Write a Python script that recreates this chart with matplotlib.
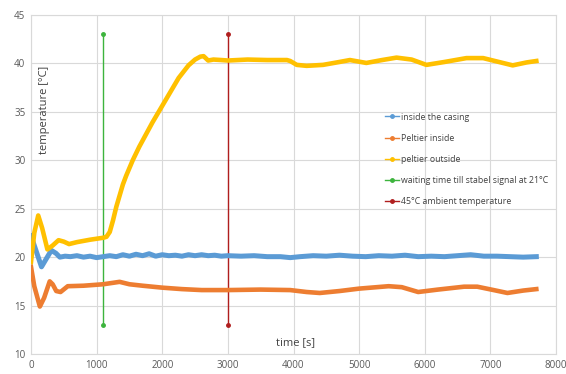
import matplotlib
matplotlib.use("Agg")
import matplotlib.pyplot as plt
from matplotlib.lines import Line2D

# ---- data ----
t_yellow = [0, 50, 110, 170, 250, 330, 420, 500, 580, 700, 900, 1100, 1150, 1200, 1250, 1300,
            1400, 1450, 1550, 1650, 1850, 2050, 2250, 2400, 2500, 2580, 2630, 2700, 2780, 2900,
            3000, 3300, 3600, 3900, 3950, 4050, 4200, 4450, 4700, 4860, 5110, 5350, 5570, 5800,
            6025, 6300, 6635, 6890, 7100, 7340, 7550, 7700]
peltier_outside = [19.5, 22.5, 24.3, 23.0, 20.8, 21.2, 21.75, 21.6, 21.35, 21.55, 21.8, 22.0, 22.1,
                   22.6, 23.8, 25.2, 27.5, 28.4, 30.0, 31.4, 33.9, 36.2, 38.5, 39.8, 40.4, 40.7,
                   40.75, 40.3, 40.4, 40.35, 40.3, 40.4, 40.35, 40.35, 40.25, 39.85, 39.75, 39.85,
                   40.15, 40.35, 40.05, 40.35, 40.6, 40.4, 39.85, 40.15, 40.55, 40.55, 40.2, 39.8,
                   40.1, 40.25]

t_blue = [0, 60, 160, 230, 310, 380, 440, 520, 600, 700, 800, 900, 1000, 1100, 1200, 1300, 1400,
          1500, 1600, 1700, 1800, 1900, 2000, 2100, 2200, 2300, 2400, 2500, 2600, 2700, 2800, 2900,
          3000, 3200, 3400, 3600, 3800, 3950, 4100, 4300, 4500, 4700, 4900, 5100, 5300, 5500,
          5700, 5900, 6100, 6300, 6500, 6700, 6900, 7100, 7300, 7500, 7700]
inside_casing = [22.2, 21.0, 19.0, 19.8, 20.7, 20.4, 20.0, 20.1, 20.05, 20.15, 20.0, 20.1, 19.95,
                 20.05, 20.15, 20.05, 20.25, 20.1, 20.3, 20.15, 20.35, 20.1, 20.25, 20.15, 20.2,
                 20.1, 20.25, 20.15, 20.25, 20.15, 20.2, 20.1, 20.15, 20.1, 20.15, 20.05, 20.05,
                 19.95, 20.05, 20.15, 20.1, 20.2, 20.1, 20.05, 20.15, 20.1, 20.2, 20.05, 20.1,
                 20.05, 20.15, 20.25, 20.1, 20.1, 20.05, 20.0, 20.05]

t_orange = [0, 50, 135, 200, 285, 330, 385, 450, 560, 800, 1100, 1250, 1350, 1500, 1700, 2000,
            2300, 2600, 3000, 3500, 3950, 4200, 4400, 4700, 5000, 5450, 5650, 5900, 6200, 6600,
            6800, 7050, 7260, 7500, 7700]
peltier_inside = [19.0, 17.0, 14.9, 15.8, 17.5, 17.2, 16.5, 16.4, 17.0, 17.05, 17.2, 17.35, 17.45,
                  17.2, 17.05, 16.85, 16.7, 16.6, 16.6, 16.65, 16.6, 16.4, 16.3, 16.5, 16.75, 17.0,
                  16.9, 16.4, 16.65, 16.95, 16.95, 16.6, 16.3, 16.55, 16.7]

wait_t = [1100, 1100]
wait_y = [13, 43]
ambient_t = [3000, 3000]
ambient_y = [13, 43]

labels = ["inside the casing", "Peltier inside", "peltier outside",
          "waiting time till stabel signal at 21°C", "45°C ambient temperature"]
colors = ["#5B9BD5", "#ED7D31", "#FFC000", "#3DB43D", "#B01E1E"]

xticks = [0, 1000, 2000, 3000, 4000, 5000, 6000, 7000, 8000]
yticks = [10, 15, 20, 25, 30, 35, 40, 45]

# ---- figure ----
plt.rcParams['font.family'] = ['Open Sans', 'DejaVu Sans']
fig = plt.figure(figsize=(5.66, 3.74), dpi=100)
ax = fig.add_axes([31/566, 1-354/374, (556-31)/566, (354-15)/374])

ax.plot(t_blue, inside_casing, color=colors[0], lw=3.6, solid_joinstyle='round', zorder=3)
ax.plot(t_orange, peltier_inside, color=colors[1], lw=3.3, solid_joinstyle='round', zorder=3)
ax.plot(t_yellow, peltier_outside, color=colors[2], lw=3.3, solid_joinstyle='round', zorder=4)
ax.plot(wait_t, wait_y, color=colors[3], lw=1.0, marker='o', ms=2.5, zorder=2)
ax.plot(ambient_t, ambient_y, color=colors[4], lw=1.0, marker='o', ms=2.5, zorder=2)

ax.set_xlim(0, 8000)
ax.set_ylim(10, 45)
ax.set_xticks(xticks)
ax.set_yticks(yticks)
ax.grid(True, color='#D9D9D9', lw=0.8)
ax.set_axisbelow(True)
for s in ax.spines.values():
    s.set_color('#D9D9D9')
    s.set_linewidth(0.8)
ax.tick_params(length=0, labelsize=7, labelcolor='#595959', pad=4)

fig.text(45/566, 1-110/374, "temperature [°C]", rotation=90,
         ha='center', va='center', fontsize=8, color='#404040')
fig.text(296/566, 1-343/374, "time [s]", ha='center', va='center', fontsize=8, color='#404040')

handles = [Line2D([0], [0], color=c, lw=1.0, marker='o', ms=2.5) for c in colors]
leg = ax.legend(handles, labels, loc='upper left', bbox_to_anchor=(381/566, 1-109/374),
                bbox_transform=fig.transFigure, frameon=False, fontsize=6.3,
                labelspacing=1.4, handlelength=1.6, handletextpad=0.3, borderaxespad=0)
for txt in leg.get_texts():
    txt.set_color('#404040')

fig.savefig("out.png", dpi=100)
